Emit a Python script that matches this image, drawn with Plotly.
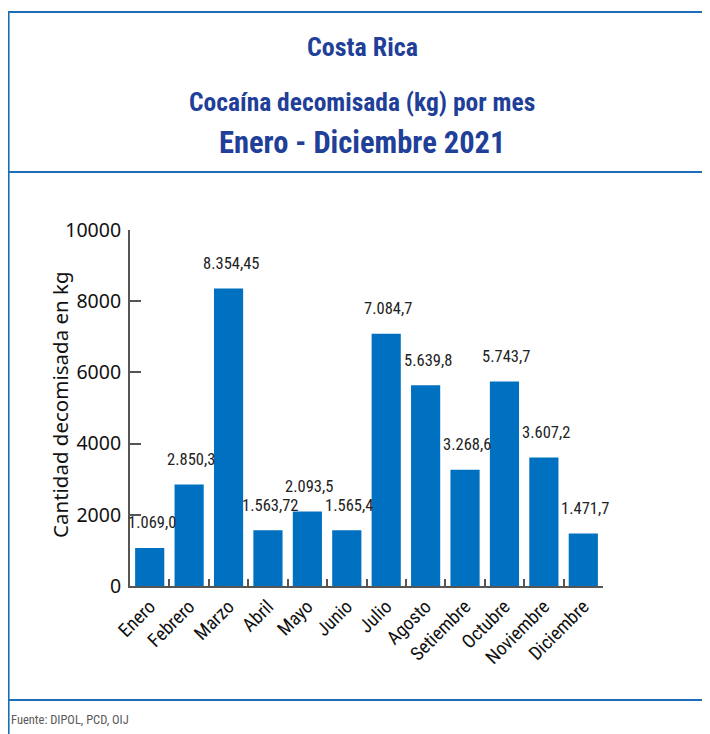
import plotly.graph_objects as go

months = ["Enero", "Febrero", "Marzo", "Abril", "Mayo", "Junio", "Julio",
          "Agosto", "Setiembre", "Octubre", "Noviembre", "Diciembre"]
kg = [1069.0, 2850.3, 8354.45, 1563.72, 2093.5, 1565.4, 7084.7,
      5639.8, 3268.6, 5743.7, 3607.2, 1471.7]
labels = ["1.069,0", "2.850,3", "8.354,45", "1.563,72", "2.093,5", "1.565,4",
          "7.084,7", "5.639,8", "3.268,6", "5.743,7", "3.607,2", "1.471,7"]
y_ticks = [0, 2000, 4000, 6000, 8000, 10000]
y_ticktext = ["0", "2000", "4000", "6000", "8000", "10000"]

# page has an 8px body margin: figure coords = page coords - 8
OFF = 8
W, H = 710 - OFF, 734 - OFF
L, R, T, B = 130 - OFF, 603 - OFF, 230 - OFF, 586 - OFF

COND = "Liberation Sans Narrow, Roboto Condensed, Arial Narrow, Roboto, sans-serif"
TITLE_BLUE = "#1f3f98"
FRAME = "#1c6fb6"

fig = go.Figure()
fig.add_trace(go.Bar(x=months, y=kg, marker=dict(color="#0070c0", line=dict(width=0)),
                     hoverinfo="x+y"))

for m, v, t in zip(months, kg, labels):
    fig.add_annotation(x=m, y=v, text=t, showarrow=False, yshift=25, xshift=2,
                       font=dict(family=COND, size=16.5, color="#222222"))

def px(x):
    return (x - OFF - L) / (R - L)

def py(y):
    return (B - (y - OFF)) / (B - T)

shapes = [
    dict(type="line", xref="paper", yref="paper", x0=px(7), x1=px(720), y0=py(12), y1=py(12),
         line=dict(color=FRAME, width=2)),
    dict(type="line", xref="paper", yref="paper", x0=px(7), x1=px(720), y0=py(172), y1=py(172),
         line=dict(color=FRAME, width=2)),
    dict(type="line", xref="paper", yref="paper", x0=px(7), x1=px(720), y0=py(700), y1=py(700),
         line=dict(color=FRAME, width=2)),
    dict(type="line", xref="paper", yref="paper", x0=px(8.6), x1=px(8.6), y0=py(11), y1=py(740),
         line=dict(color=FRAME, width=2)),
]

titles = [
    ("Costa Rica", 47, 26),
    ("Cocaína decomisada (kg) por mes", 102, 25.5),
    ("Enero - Diciembre 2021", 142, 30.5),
]
for text, yc, size in titles:
    fig.add_annotation(xref="paper", yref="paper", x=px(362), y=py(yc), text="<b>" + text + "</b>",
                       showarrow=False, xanchor="center", yanchor="middle",
                       font=dict(family=COND, size=size, color=TITLE_BLUE))

fig.add_annotation(xref="paper", yref="paper", x=px(9), y=py(719), text="Fuente: DIPOL, PCD, OIJ",
                   showarrow=False, xanchor="left", yanchor="middle",
                   font=dict(family=COND, size=12.5, color="#5a5a5a"))

fig.add_annotation(xref="paper", yref="paper", x=px(60), y=py(405), text="Cantidad decomisada en kg",
                   showarrow=False, textangle=-90, xanchor="center", yanchor="middle",
                   font=dict(family="Noto Sans, Open Sans, sans-serif", size=20.5, color="#111111"))

fig.update_layout(
    width=W, height=H,
    margin=dict(l=L, r=W - R, t=T, b=H - B, pad=0),
    paper_bgcolor="white", plot_bgcolor="white",
    bargap=0.26, showlegend=False,
    shapes=shapes,
    xaxis=dict(range=[-0.5, 11.5], showline=True, linecolor="#555555", linewidth=2, ticks="inside",
               tickson="boundaries",
               ticklen=7, tickcolor="#555555", tickwidth=1.5, tickangle=-45, showgrid=False,
               automargin=False,
               tickfont=dict(family=COND, size=19, color="#111111")),
    yaxis=dict(range=[0, 10000], tickvals=y_ticks, ticktext=y_ticktext, showline=True,
               linecolor="#555555", linewidth=2, automargin=False,
               ticks="inside", ticklen=11, tickcolor="#555555", tickwidth=1.5, showgrid=False,
               zeroline=False, ticklabelstandoff=3,
               tickfont=dict(family="Noto Sans, Open Sans, sans-serif", size=19.5, color="#111111")),
)

fig.write_html("out.html")
